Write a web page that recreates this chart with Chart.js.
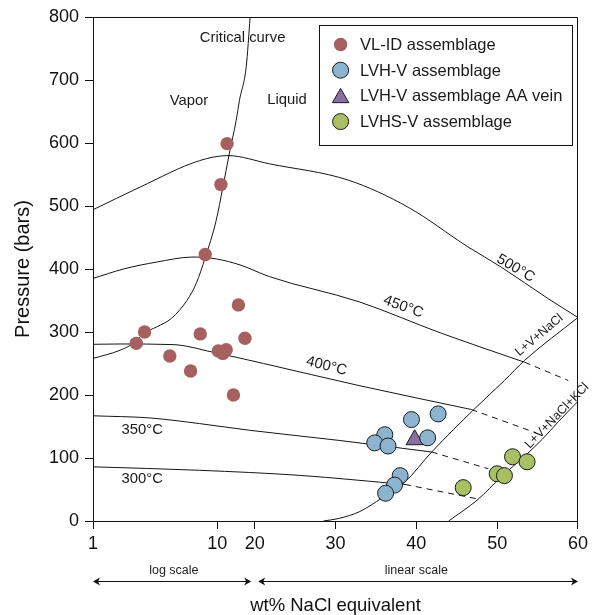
<!DOCTYPE html>
<html>
<head>
<meta charset="utf-8">
<script src="https://cdn.jsdelivr.net/npm/chart.js@4.4.1/dist/chart.umd.min.js"></script>
<style>
  html, body { margin: 0; padding: 0; background: #fff; }
  #wrap { width: 592px; height: 615px; position: relative; }
</style>
</head>
<body>
<div id="wrap"><canvas id="chart"></canvas></div>
<script>
const FONT = "'Liberation Sans', Arial, Helvetica, sans-serif";

// ===== AXES =====
const xTickValues = [1, 10, 20, 30, 40, 50, 60];
const yMin = 0;
const yMax = 800;
const yStep = 100;

// ===== FLUID INCLUSION DATA (wt% NaCl eq., pressure in bars) =====
const vlidX = [12.0, 10.7, 8.0, 14.8, 2.6, 7.3, 16.7, 2.23, 10.2, 11.8, 11.1, 4.15, 6.1, 13.5];
const vlidP = [599, 534, 423, 343, 300, 297, 290, 282, 270, 272, 266, 262, 238, 200];

const lvhvX = [39.4, 42.7, 36.1, 34.85, 36.5, 41.4, 38.0, 37.3, 36.2];
const lvhvP = [161, 170, 137, 124, 119, 132, 72, 57, 44];

const aaVeinX = [39.8];
const aaVeinP = [129];

const lvhsvX = [45.8, 50.0, 50.9, 51.9, 53.7];
const lvhsvP = [53, 75, 72, 102, 94];

// ===== PHASE BOUNDARIES / ISOTHERMS =====
const criticalX = [1, 1.65, 2.11, 2.62, 3.25, 4.3, 5.7, 6.8, 8.0, 9.8, 11.1, 12.5, 14.2, 15.1, 17.1, 18.4];
const criticalP = [258, 271, 282, 299, 308, 322, 350, 378, 418, 477, 530, 583, 636, 668, 721, 800];

const iso500X = [1, 2.39, 7.2, 12.2, 21.8, 31.6, 39, 46.4, 50.5, 56.3, 60];
const iso500P = [494, 530, 572, 580, 567, 541, 498, 435, 403, 353, 323];

const iso450X = [1, 1.76, 3.25, 6.38, 9.8, 15.5, 21.8, 32.9, 43.1, 53.4];
const iso450P = [385, 400, 411, 419, 416, 406, 388, 348, 298, 252];
const iso450DashX = [53.4, 58.8];
const iso450DashP = [252, 223];

const iso400X = [1, 1.65, 4.41, 9.2, 21.1, 32.9, 46.8];
const iso400P = [280.5, 281, 280, 268, 250, 215, 177];
const iso400DashX = [46.8, 54.8];
const iso400DashP = [177, 140];

const iso350X = [1, 2.9, 7.2, 18.2, 30.4, 41.9];
const iso350P = [167, 163.5, 154.6, 144, 128, 109.5];
const iso350DashX = [41.9, 48.9];
const iso350DashP = [109.5, 83];

const iso300X = [1, 7.2, 25.5, 38.6];
const iso300P = [86, 80.5, 72.5, 58];
const iso300DashX = [38.6, 47.6];
const iso300DashP = [58, 35];

const haliteX = [28.5, 30.4, 33, 35.8, 38.6, 41.9, 47.2, 50.9, 53.4, 60];
const haliteP = [0, 4, 15, 37, 62, 109.5, 178, 223, 255, 323];

const sylviteX = [44, 47.6, 50.5, 53.4, 55.6, 57.6, 60];
const sylviteP = [0, 34, 70, 103, 130, 158, 190];

// ===== TEXT LABELS (placed in data coordinates) =====
const labelTexts = ["Critical curve", "Vapor", "Liquid", "500°C", "450°C", "400°C", "350°C", "300°C", "L+V+NaCl", "L+V+NaCl+KCl"];
const labelX = [16.0, 5.92, 24.0, 52.3, 38.4, 28.9, 2.49, 2.49, 55.2, 57.4];
const labelP = [767, 667, 668, 401, 340, 246, 144, 67, 295, 167];
const labelAngle = [0, 0, 0, 30, 20, 14, 0, 0, -40, -46];

const red = "#a5605f";
const blue = "#8db4cf";
const purple = "#8a6fa5";
const green = "#a9bf63";
const edge = "#1a1a1a";

function pointsOf(xs, ys) {
  return xs.map((x, i) => ({ x: x, y: ys[i] }));
}

// ===== HYBRID X SCALE: log from 1 to 20, linear from 20 to 60 =====
function hybridDecimal(v) {
  if (v <= 20) {
    return Math.log10(Math.max(v, 1e-6)) / Math.log10(20) / 3;
  }
  return 1 / 3 + (v - 20) / 60;
}

class HybridScale extends Chart.LinearScale {
  buildTicks() {
    return xTickValues.map((v) => ({ value: v }));
  }
  getPixelForValue(value) {
    return this.getPixelForDecimal(hybridDecimal(value));
  }
  getValueForPixel(pixel) {
    const d = this.getDecimalForPixel(pixel);
    return d <= 1 / 3 ? Math.pow(20, d * 3) : 20 + (d - 1 / 3) * 60;
  }
}
HybridScale.id = "hybrid";
HybridScale.defaults = Chart.LinearScale.defaults;
Chart.register(HybridScale);

function curve(xs, ys, dashed) {
  return {
    type: "scatter",
    label: "",
    data: pointsOf(xs, ys),
    showLine: true,
    borderColor: "#151515",
    borderWidth: 1,
    borderDash: dashed ? [6, 5] : [],
    pointRadius: 0,
    cubicInterpolationMode: dashed ? "default" : "monotone",
    order: 5
  };
}

// ===== OVERLAY: frame, legend, labels, scale arrows =====
const overlayPlugin = {
  id: "overlay",
  afterDraw(chart) {
    const ctx = chart.ctx;
    const area = chart.chartArea;
    const xs = chart.scales.x;
    const ys = chart.scales.y;

    ctx.save();
    ctx.strokeStyle = "#111";
    ctx.lineWidth = 1;
    ctx.beginPath();
    ctx.moveTo(Math.round(area.left) + 0.5, Math.round(area.top) + 0.5);
    ctx.lineTo(Math.round(area.right) - 0.5, Math.round(area.top) + 0.5);
    ctx.lineTo(Math.round(area.right) - 0.5, Math.round(area.bottom) + 0.5);
    ctx.stroke();

    // annotations (phase boundary names are set smaller than the isotherms)
    ctx.fillStyle = "#1a1a1a";
    ctx.textAlign = "center";
    ctx.textBaseline = "middle";
    labelTexts.forEach((t, i) => {
      const px = xs.getPixelForValue(labelX[i]);
      const py = ys.getPixelForValue(labelP[i]);
      ctx.font = (t.startsWith("L+") ? "12.6px " : "14.8px ") + FONT;
      ctx.save();
      ctx.translate(px, py);
      ctx.rotate((labelAngle[i] * Math.PI) / 180);
      ctx.fillText(t, 0, 0);
      ctx.restore();
    });

    // legend
    const bx = area.right - 259;
    const by = area.top + 7.5;
    const bw = 253;
    const bh = 120;
    ctx.fillStyle = "#fff";
    ctx.fillRect(bx, by, bw, bh);
    ctx.strokeStyle = "#111";
    ctx.strokeRect(Math.round(bx) + 0.5, Math.round(by) + 0.5, bw, bh);
    ctx.font = "16.5px " + FONT;
    ctx.textAlign = "left";
    chart.data.datasets.forEach((ds, i) => {
      if (!ds.label) return;
      const cy = by + 20 + i * 25.7;
      const cx = bx + 21.6;
      ctx.fillStyle = ds.pointBackgroundColor;
      ctx.strokeStyle = ds.pointBorderColor;
      ctx.lineWidth = ds.pointBorderWidth;
      const tri = ds.pointStyle === "triangle";
      const r = tri ? 9.5 : ds.pointRadius;
      const my = tri ? cy + 2 : cy;
      ctx.beginPath();
      if (tri) {
        ctx.moveTo(cx, my - r);
        ctx.lineTo(cx + r * 0.866, my + r / 2);
        ctx.lineTo(cx - r * 0.866, my + r / 2);
        ctx.closePath();
      } else {
        ctx.arc(cx, my, r, 0, Math.PI * 2);
      }
      ctx.fill();
      if (ds.pointBorderWidth > 0) ctx.stroke();
      ctx.fillStyle = "#1a1a1a";
      ctx.fillText(ds.label, bx + 41, cy + 1);
    });

    // log / linear scale arrows under the axis
    const ay = area.bottom + 60;
    const x1 = xs.getPixelForValue(1);
    const x20 = xs.getPixelForValue(20);
    const x60 = xs.getPixelForValue(60);
    ctx.strokeStyle = "#111";
    ctx.fillStyle = "#111";
    ctx.lineWidth = 1;
    function arrow(a, b) {
      ctx.beginPath();
      ctx.moveTo(a + 2, ay + 0.5);
      ctx.lineTo(b - 2, ay + 0.5);
      ctx.stroke();
      [[a, 1], [b, -1]].forEach(([p, s]) => {
        ctx.beginPath();
        ctx.moveTo(p, ay + 0.5);
        ctx.lineTo(p + s * 7, ay - 3.5);
        ctx.lineTo(p + s * 5, ay + 0.5);
        ctx.lineTo(p + s * 7, ay + 4.5);
        ctx.closePath();
        ctx.fill();
      });
    }
    arrow(x1, x20 - 3.5);
    arrow(x20 + 3.5, x60);
    ctx.font = "12.5px " + FONT;
    ctx.textAlign = "center";
    ctx.fillStyle = "#222";
    ctx.fillText("log scale", (x1 + x20) / 2, ay - 10);
    ctx.fillText("linear scale", (x20 + x60) / 2, ay - 10);
    ctx.restore();
  }
};

Chart.defaults.font.family = FONT;
Chart.defaults.color = "#111";

const ctx = document.getElementById("chart").getContext("2d");
new Chart(ctx, {
  type: "scatter",
  data: {
    datasets: [
      {
        label: "VL-ID assemblage",
        data: pointsOf(vlidX, vlidP),
        pointStyle: "circle",
        pointRadius: 6.7,
        pointBackgroundColor: red,
        pointBorderColor: red,
        pointBorderWidth: 0,
        order: 0
      },
      {
        label: "LVH-V assemblage",
        data: pointsOf(lvhvX, lvhvP),
        pointStyle: "circle",
        pointRadius: 8,
        pointBackgroundColor: blue,
        pointBorderColor: edge,
        pointBorderWidth: 1,
        order: 0
      },
      {
        label: "LVH-V assemblage AA vein",
        data: pointsOf(aaVeinX, aaVeinP),
        pointStyle: "triangle",
        pointRadius: 10,
        pointBackgroundColor: purple,
        pointBorderColor: edge,
        pointBorderWidth: 1,
        order: 0
      },
      {
        label: "LVHS-V assemblage",
        data: pointsOf(lvhsvX, lvhsvP),
        pointStyle: "circle",
        pointRadius: 8,
        pointBackgroundColor: green,
        pointBorderColor: edge,
        pointBorderWidth: 1,
        order: 0
      },
      curve(criticalX, criticalP, false),
      curve(iso500X, iso500P, false),
      curve(iso450X, iso450P, false),
      curve(iso450DashX, iso450DashP, true),
      curve(iso400X, iso400P, false),
      curve(iso400DashX, iso400DashP, true),
      curve(iso350X, iso350P, false),
      curve(iso350DashX, iso350DashP, true),
      curve(iso300X, iso300P, false),
      curve(iso300DashX, iso300DashP, true),
      curve(haliteX, haliteP, false),
      curve(sylviteX, sylviteP, false)
    ]
  },
  options: {
    responsive: true,
    maintainAspectRatio: false,
    animation: false,
    events: [],
    layout: { padding: { top: 17, right: 11, left: 0, bottom: 0 } },
    plugins: {
      legend: { display: false },
      tooltip: { enabled: false }
    },
    scales: {
      x: {
        type: "hybrid",
        min: 1,
        max: 60,
        afterFit: (s) => { s.height = 94; },
        border: { display: true, color: "#111", width: 1 },
        grid: { display: true, drawOnChartArea: false, drawTicks: true, tickLength: 8, color: "#111" },
        ticks: { autoSkip: false, maxRotation: 0, padding: 4, color: "#111", font: { size: 18 } },
        title: {
          display: true,
          text: "wt% NaCl equivalent",
          color: "#111",
          font: { size: 18.5, lineHeight: 1 },
          padding: { top: 0, bottom: 0 }
        }
      },
      y: {
        min: yMin,
        max: yMax,
        afterFit: (s) => { s.width = 93; },
        border: { display: true, color: "#111", width: 1 },
        grid: { display: true, drawOnChartArea: false, drawTicks: true, tickLength: 8, color: "#111" },
        ticks: { stepSize: yStep, padding: 6, color: "#111", font: { size: 18 } },
        title: {
          display: true,
          text: "Pressure (bars)",
          color: "#111",
          font: { size: 20, lineHeight: 1 },
          padding: { top: 13, bottom: 0 }
        }
      }
    }
  },
  plugins: [overlayPlugin]
});
</script>
</body>
</html>
